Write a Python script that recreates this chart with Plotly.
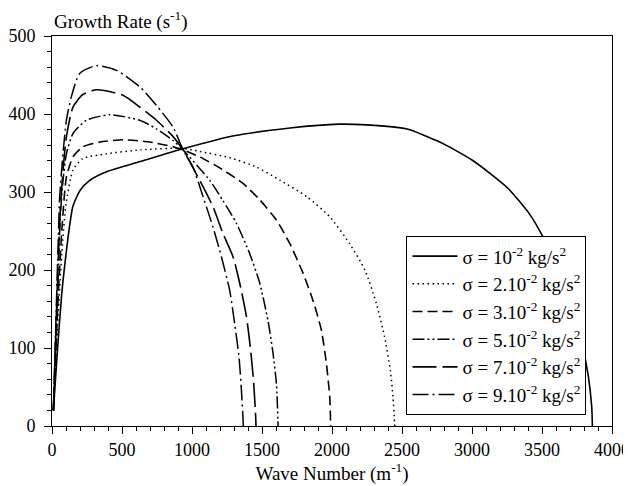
import plotly.graph_objects as go

# sigma = 1e-2 kg/s^2 (solid)
k1 = [10, 40, 70, 100, 130, 150, 200, 270, 390, 630, 930, 1300, 1700, 2050, 2250, 2530, 2770, 3000, 3250, 3410, 3505, 3600, 3700, 3780, 3830, 3855, 3860]
g1 = [20, 100, 170, 220, 262, 282, 302, 315, 326, 339, 355, 372, 382, 387, 386, 381, 364, 341, 306, 272, 243, 205, 160, 110, 65, 25, 0]
# sigma = 2e-2 (dotted)
k2 = [10, 40, 70, 100, 150, 220, 390, 630, 930, 1055, 1270, 1460, 1630, 1820, 1985, 2125, 2235, 2317, 2376, 2417, 2436, 2445, 2448]
g2 = [20, 130, 220, 285, 328, 343, 349, 354, 356, 352, 344, 332, 315, 294, 268, 234, 200, 157, 114, 71, 37, 10, 0]
# sigma = 3e-2 (dashed)
k3 = [10, 40, 70, 103, 150, 222, 341, 507, 698, 865, 936, 1055, 1198, 1364, 1484, 1603, 1698, 1793, 1864, 1924, 1960, 1984, 1990, 1991]
g3 = [20, 150, 250, 319, 345, 358, 364, 367, 364, 358, 354, 345, 331, 311, 290, 264, 234, 196, 161, 123, 80, 37, 5, 0]
# sigma = 5e-2 (dash-dot-dot)
k5 = [10, 40, 60, 79, 103, 150, 246, 412, 626, 746, 865, 936, 1126, 1221, 1317, 1412, 1484, 1543, 1579, 1603, 1614, 1615]
g5 = [20, 170, 270, 315, 349, 375, 392, 399, 392, 381, 366, 354, 315, 289, 260, 221, 183, 135, 93, 54, 7, 0]
# sigma = 7e-2 (long dash)
k7 = [10, 40, 60, 79, 103, 150, 220, 317, 507, 626, 746, 865, 936, 1055, 1150, 1221, 1293, 1341, 1389, 1419, 1441, 1455, 1457]
g7 = [20, 190, 280, 328, 371, 409, 425, 431, 424, 409, 392, 371, 354, 315, 281, 247, 217, 183, 140, 97, 54, 11, 0]
# sigma = 9e-2 (dash-dot)
k9 = [10, 40, 55, 79, 103, 138, 198, 317, 460, 626, 746, 865, 936, 1007, 1079, 1150, 1210, 1269, 1305, 1336, 1353, 1365, 1366]
g9 = [20, 210, 294, 350, 392, 422, 452, 462, 456, 435, 411, 383, 354, 332, 294, 255, 217, 174, 131, 88, 46, 7, 0]

names = [
    "σ = 10<sup>-2</sup> kg/s<sup>2</sup>",
    "σ = 2.10<sup>-2</sup> kg/s<sup>2</sup>",
    "σ = 3.10<sup>-2</sup> kg/s<sup>2</sup>",
    "σ = 5.10<sup>-2</sup> kg/s<sup>2</sup>",
    "σ = 7.10<sup>-2</sup> kg/s<sup>2</sup>",
    "σ = 9.10<sup>-2</sup> kg/s<sup>2</sup>",
]
xs = [k1, k2, k3, k5, k7, k9]
ys = [g1, g2, g3, g5, g7, g9]
dashes = ["solid", "1.5px,3.5px", "10px,5px", "12px,3px,2px,3px,2px,3px", "24px,6px", "16px,4px,2px,4px"]
widths = [1.6, 1.5, 1.6, 1.5, 1.6, 1.5]

FONT = "Liberation Serif"

fig = go.Figure()
for x, y, n, d, w in zip(xs, ys, names, dashes, widths):
    fig.add_trace(go.Scatter(x=x, y=y, mode="lines", name=n,
                             line=dict(color="black", width=w, dash=d, shape="spline", smoothing=0.6)))

# page body has an 8px margin, so the figure is sized/offset to compensate
fig.update_layout(
    width=623, height=478,
    margin=dict(l=44, r=19, t=28, b=60, autoexpand=False),
    paper_bgcolor="white", plot_bgcolor="white",
    font=dict(family=FONT, size=18, color="black"),
    showlegend=True,
    legend=dict(x=0.633, y=0.4865, xanchor="left", yanchor="top",
                bgcolor="white", bordercolor="black", borderwidth=1,
                font=dict(family=FONT, size=19, color="black"),
                itemwidth=45),
)
fig.update_xaxes(range=[0, 4000], showgrid=False, zeroline=False, automargin=False,
                 showline=True, linecolor="black", linewidth=1, mirror=True,
                 ticks="outside", ticklen=7, tickcolor="black", dtick=500, tick0=0,
                 minor=dict(ticks="outside", dtick=100, ticklen=4, tickcolor="black"),
                 tickfont=dict(family=FONT, size=18),
                 title=dict(text="Wave Number (m<sup>-1</sup>)", font=dict(family=FONT, size=19), standoff=2))
fig.update_yaxes(range=[0, 500], showgrid=False, zeroline=False, automargin=False,
                 showline=True, linecolor="black", linewidth=1, mirror=True,
                 ticks="outside", ticklen=7, tickcolor="black", dtick=100, tick0=0,
                 minor=dict(ticks="outside", dtick=20, ticklen=4, tickcolor="black"),
                 tickfont=dict(family=FONT, size=18), ticklabelstandoff=5)
fig.add_annotation(text="Growth Rate (s<sup>-1</sup>)", xref="paper", yref="paper",
                   x=0, y=1, xanchor="left", yanchor="bottom", yshift=1, showarrow=False,
                   font=dict(family=FONT, size=19, color="black"))

fig.write_html("out.html")
